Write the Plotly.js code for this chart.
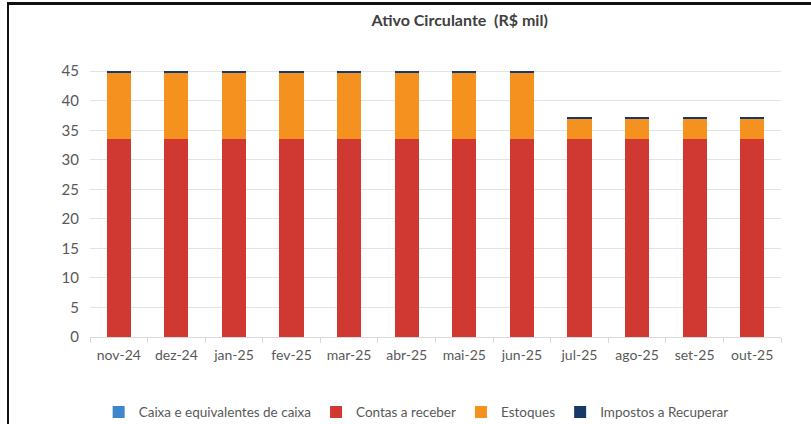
<!DOCTYPE html>
<html>
<head>
<meta charset="utf-8">
<script src="https://cdn.plot.ly/plotly-3.0.1.min.js"></script>
<style>
  html, body { margin: 0; padding: 0; background: #fff; }
  #wrap { position: relative; width: 811px; height: 424px; overflow: hidden; }
  #chart { width: 811px; height: 424px; }
  #frame { position: absolute; left: 7px; top: 2px; width: 810px; height: 430px;
           border-top: 3px solid #111; border-left: 2px solid #111; pointer-events: none; }
</style>
</head>
<body>
<div id="wrap">
  <div id="chart"></div>
  <div id="frame"></div>
</div>
<script>
const months = ["nov-24","dez-24","jan-25","fev-25","mar-25","abr-25","mai-25","jun-25","jul-25","ago-25","set-25","out-25"];
const caixa    = [0.05,0.05,0.05,0.05,0.05,0.05,0.05,0.05,0.05,0.05,0.05,0.05];
const contas   = [33.4,33.4,33.4,33.4,33.4,33.4,33.4,33.4,33.4,33.4,33.4,33.4];
const estoques = [11.2,11.2,11.2,11.2,11.2,11.2,11.2,11.2,3.4,3.4,3.4,3.4];
const impostos = [0.35,0.35,0.35,0.35,0.35,0.35,0.35,0.35,0.35,0.35,0.35,0.35];
const yTicks = [0,5,10,15,20,25,30,35,40,45];

const font = "Lato, 'Open Sans', sans-serif";

const traces = [
  {name: "Caixa e equivalentes de caixa", y: caixa, color: "#3F86CC"},
  {name: "Contas a receber", y: contas, color: "#D03832"},
  {name: "Estoques", y: estoques, color: "#F5921F"},
  {name: "Impostos a Recuperar", y: impostos, color: "#17386B"}
].map(s => ({
  type: "bar",
  x: months,
  y: s.y,
  name: s.name,
  marker: {color: s.color, line: {width: 0}},
  hoverinfo: "x+y+name"
}));

const layout = {
  width: 811,
  height: 424,
  barmode: "stack",
  bargap: 0.58,
  paper_bgcolor: "#ffffff",
  plot_bgcolor: "#ffffff",
  margin: {l: 90, r: 30, t: 57, b: 87, autoexpand: false},
  title: {
    text: "<b>Ativo Circulante  (R$ mil)</b>",
    font: {family: font, size: 16, color: "#404040"},
    x: 0.535, xanchor: "center", xref: "paper",
    y: 0.952, yanchor: "middle", yref: "container"
  },
  xaxis: {
    type: "category",
    showgrid: false,
    showline: true,
    linecolor: "#D9D9D9",
    linewidth: 1,
    ticks: "outside",
    tickson: "boundaries",
    ticklen: 5,
    tickcolor: "#D9D9D9",
    tickfont: {family: font, size: 14, color: "#595959"},
    ticklabelstandoff: 5
  },
  yaxis: {
    range: [0, 47.4],
    tickvals: yTicks,
    showgrid: true,
    gridcolor: "#E3E3E3",
    gridwidth: 1,
    zeroline: false,
    showline: false,
    tickfont: {family: font, size: 15, color: "#595959"},
    ticklabelstandoff: 10
  },
  legend: {
    orientation: "h",
    x: 0.472, xanchor: "center",
    yref: "container",
    y: 0.028, yanchor: "middle",
    font: {family: font, size: 13.5, color: "#595959"},
    itemwidth: 30,
    traceorder: "normal"
  },
  showlegend: true
};

Plotly.newPlot("chart", traces, layout, {displayModeBar: false, staticPlot: true});
</script>
</body>
</html>
